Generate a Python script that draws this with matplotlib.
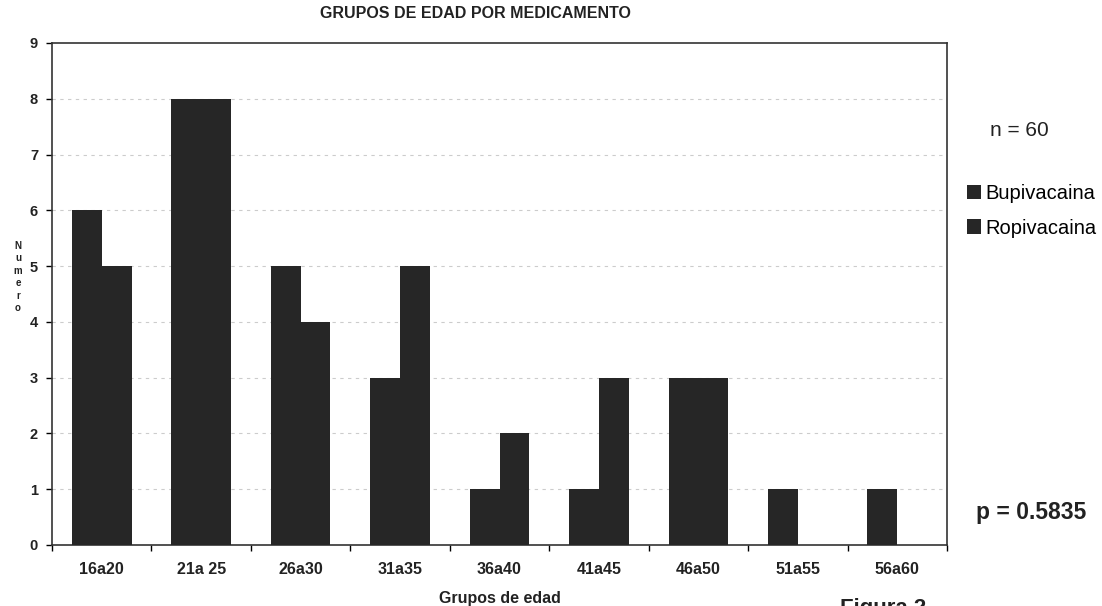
import numpy as np
import matplotlib.pyplot as plt

grupos = ["16a20", "21a 25", "26a30", "31a35", "36a40", "41a45", "46a50", "51a55", "56a60"]
bupivacaina = [6, 8, 5, 3, 1, 1, 3, 1, 1]
ropivacaina = [5, 8, 4, 5, 2, 3, 3, 0, 0]

plt.rcParams['font.family'] = ['Liberation Sans', 'DejaVu Sans']

fig = plt.figure(figsize=(11.02, 6.06), dpi=100)
ax = fig.add_axes([52 / 1102, 61 / 606, 895 / 1102, 502 / 606])

x = np.arange(len(grupos))
w = 0.3
bar_color = "#262626"
ax.bar(x - w / 2, bupivacaina, w, color=bar_color, label="Bupivacaina", zorder=3)
ax.bar(x + w / 2, ropivacaina, w, color=bar_color, label="Ropivacaina", zorder=3)

ax.set_xlim(-0.5, len(grupos) - 0.5)
ax.set_ylim(0, 9)
ax.set_yticks(range(10))
ax.set_yticklabels([str(i) for i in range(10)], fontsize=10.5, fontweight="bold", color="#222222")
ax.set_xticks(x)
ax.set_xticklabels(grupos, fontsize=11.5, fontweight="bold", color="#222222")
ax.tick_params(axis="x", length=0, pad=12)
ax.tick_params(axis="y", length=4, width=1, pad=6)
ax.set_xticks(np.arange(len(grupos) + 1) - 0.5, minor=True)
ax.tick_params(axis="x", which="minor", length=4, width=1)

for y in range(1, 9):
    ax.axhline(y, color="#cccccc", lw=0.8, ls=(0, (3, 4)), zorder=1)

for side in ax.spines.values():
    side.set_color("#333333")
    side.set_linewidth(1.2)

ax.set_xlabel("Grupos de edad", fontsize=11.5, fontweight="bold", color="#222222", labelpad=10)
fig.text(475 / 1102, 1 - 14 / 606, "GRUPOS DE EDAD POR MEDICAMENTO",
         ha="center", va="center", fontsize=11.5, fontweight="bold", color="#222222")

fig.text(18 / 1102, 1 - 277 / 606, "N\nu\nm\ne\nr\no", ha="center", va="center",
         fontsize=7, fontweight="bold", linespacing=1.3, color="#222222")

fig.text(1019 / 1102, 1 - 130 / 606, "n = 60", ha="center", va="center", fontsize=15, color="#222222")
fig.legend(handles=ax.patches[:1] + ax.patches[len(grupos):len(grupos) + 1],
           labels=["Bupivacaina", "Ropivacaina"], loc="center left",
           bbox_to_anchor=(967 / 1102, 1 - 211 / 606), frameon=False, fontsize=14.5,
           handlelength=0.7, handleheight=0.7, handletextpad=0.2, labelspacing=0.75,
           borderpad=0, borderaxespad=0)
fig.text(1031 / 1102, 1 - 512 / 606, "p = 0.5835", ha="center", va="center",
         fontsize=16.5, fontweight="bold", color="#222222")
# caption sits at the lower page edge, only partly inside the figure
fig.text(840 / 1102, 1 - 598 / 606, "Figura 2", ha="left", va="top",
         fontsize=16, fontweight="bold", color="#222222")

fig.savefig("out.png", dpi=100)
